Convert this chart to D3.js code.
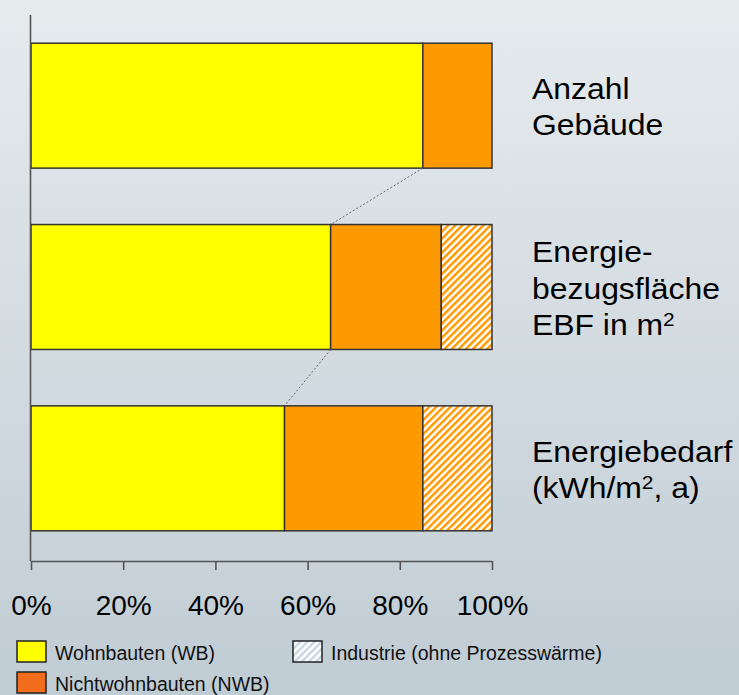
<!DOCTYPE html>
<html>
<head>
<meta charset="utf-8">
<script src="https://cdn.jsdelivr.net/npm/d3@7/dist/d3.min.js"></script>
<style>
  html, body { margin: 0; padding: 0; }
  body { width: 739px; height: 695px; overflow: hidden; }
  svg { display: block; font-family: "Liberation Sans", Arial, sans-serif; }
</style>
</head>
<body>
<svg id="chart" width="739" height="695"></svg>
<script>
// Categories (bars from top to bottom) and their right-hand labels ("^2" = superscript 2)
const categories = ["Anzahl Gebäude", "Energiebezugsfläche", "Energiebedarf"];
const categoryLabels = [
  ["Anzahl", "Gebäude"],
  ["Energie-", "bezugsfläche", "EBF in m^2"],
  ["Energiebedarf", "(kWh/m^2, a)"]
];

// Shares in percent per category
const seriesNames = ["Wohnbauten (WB)", "Nichtwohnbauten (NWB)", "Industrie (ohne Prozesswärme)"];
const wohnbauten      = [85, 65, 55];
const nichtwohnbauten = [15, 24, 30];
const industrie       = [0, 11, 15];

const tickValues = [0, 20, 40, 60, 80, 100];
const tickLabels = ["0%", "20%", "40%", "60%", "80%", "100%"];

const svg = d3.select("#chart");
const W = 739, H = 695;

// Background gradient
const defs = svg.append("defs");
const bg = defs.append("linearGradient").attr("id", "bg")
  .attr("x1", 0).attr("y1", 0).attr("x2", 0).attr("y2", 1);
bg.append("stop").attr("offset", "0%").attr("stop-color", "#e6ebee");
bg.append("stop").attr("offset", "100%").attr("stop-color", "#c0ccd4");
svg.append("rect").attr("width", W).attr("height", H).attr("fill", "url(#bg)");

// Diagonal hatch for Industrie (bars)
const hatch = defs.append("pattern").attr("id", "hatch")
  .attr("patternUnits", "userSpaceOnUse").attr("width", 5).attr("height", 5)
  .attr("patternTransform", "rotate(45)");
hatch.append("rect").attr("width", 5).attr("height", 5).attr("fill", "#ffffff");
hatch.append("rect").attr("width", 2.5).attr("height", 5).attr("fill", "#ff9900");

// Lighter hatch for the legend swatch
const hatchL = defs.append("pattern").attr("id", "hatchLegend")
  .attr("patternUnits", "userSpaceOnUse").attr("width", 5).attr("height", 5)
  .attr("patternTransform", "rotate(45)");
hatchL.append("rect").attr("width", 5).attr("height", 5).attr("fill", "#ffffff");
hatchL.append("rect").attr("width", 2.5).attr("height", 5).attr("fill", "#c9d5e0");

const fills = ["#ffff00", "#ff9900", "url(#hatch)"];
const legendFills = ["#ffff00", "#f26d1c", "url(#hatchLegend)"];

// Scales
const x = d3.scaleLinear().domain([0, 100]).range([31, 492]);
const y = d3.scaleBand().domain(categories).range([16, 558])
  .paddingInner(0.311).paddingOuter(0.15);

// Stack the series
const rows = categories.map((c, i) => ({
  cat: c, wb: wohnbauten[i], nwb: nichtwohnbauten[i], ind: industrie[i]
}));
const stack = d3.stack().keys(["wb", "nwb", "ind"]);
const stacked = stack(rows);

const barG = svg.append("g");
stacked.forEach((layer, li) => {
  barG.selectAll(null).data(layer.filter(d => d[1] - d[0] > 0)).enter()
    .append("rect")
    .attr("x", d => x(d[0]))
    .attr("y", d => y(d.data.cat))
    .attr("width", d => x(d[1]) - x(d[0]))
    .attr("height", y.bandwidth())
    .attr("fill", fills[li])
    .attr("stroke", "#333333")
    .attr("stroke-width", 1.5);
});

// Dashed connectors between the Wohnbauten shares of successive bars
const conn = svg.append("g");
for (let i = 0; i < categories.length - 1; i++) {
  conn.append("line")
    .attr("x1", x(wohnbauten[i])).attr("y1", y(categories[i]) + y.bandwidth())
    .attr("x2", x(wohnbauten[i + 1])).attr("y2", y(categories[i + 1]))
    .attr("stroke", "#666")
    .attr("stroke-width", 1)
    .attr("stroke-dasharray", "2,2");
}

// Axes
const axisY = 561;
const xAxis = d3.axisBottom(x).tickValues(tickValues)
  .tickFormat((d, i) => tickLabels[i]).tickSizeInner(9).tickSizeOuter(0).tickPadding(24);
const gx = svg.append("g").attr("transform", `translate(0,${axisY})`).call(xAxis);
gx.select(".domain").attr("stroke", "#555").attr("stroke-width", 1.6);
gx.selectAll(".tick line").attr("stroke", "#555").attr("stroke-width", 1.6);
gx.selectAll(".tick text").attr("font-size", 28).attr("fill", "#000")
  .attr("font-family", "'Liberation Sans', Arial, sans-serif")
  .attr("dy", 0).attr("y", 54);

// Vertical axis line
svg.append("line")
  .attr("x1", x(0) - 0.5).attr("x2", x(0) - 0.5)
  .attr("y1", 15).attr("y2", axisY)
  .attr("stroke", "#555").attr("stroke-width", 1.6);

// Category labels on the right
const lineH = 36.5;
const labelG = svg.append("g");
categories.forEach((c, i) => {
  const lines = categoryLabels[i];
  const cy = y(c) + y.bandwidth() / 2;
  const first = cy - (lines.length - 1) * lineH / 2 + 11.5;
  lines.forEach((ln, j) => {
    const t = labelG.append("text")
      .attr("transform", `translate(532,${first + j * lineH}) scale(1.1,1)`)
      .attr("font-size", 29).attr("fill", "#000");
    const parts = ln.split("^2");
    parts.forEach((p, k) => {
      if (k > 0) {
        t.append("tspan").attr("font-size", 19).attr("dy", -9).text("2");
        t.append("tspan").attr("dy", 9).text(p);
      } else {
        t.append("tspan").text(p);
      }
    });
  });
});

// Legend
const legendItems = [
  { name: seriesNames[0], fill: legendFills[0], lx: 17, ly: 641 },
  { name: seriesNames[2], fill: legendFills[2], lx: 293, ly: 641 },
  { name: seriesNames[1], fill: legendFills[1], lx: 17, ly: 672 }
];
const lg = svg.append("g");
legendItems.forEach(it => {
  lg.append("rect").attr("x", it.lx).attr("y", it.ly).attr("width", 29).attr("height", 21)
    .attr("fill", it.fill).attr("stroke", "#222").attr("stroke-width", 1.5);
  lg.append("text").attr("x", it.lx + 38).attr("y", it.ly + 19)
    .attr("font-size", 19.5).attr("fill", "#111").text(it.name);
});
</script>
</body>
</html>
